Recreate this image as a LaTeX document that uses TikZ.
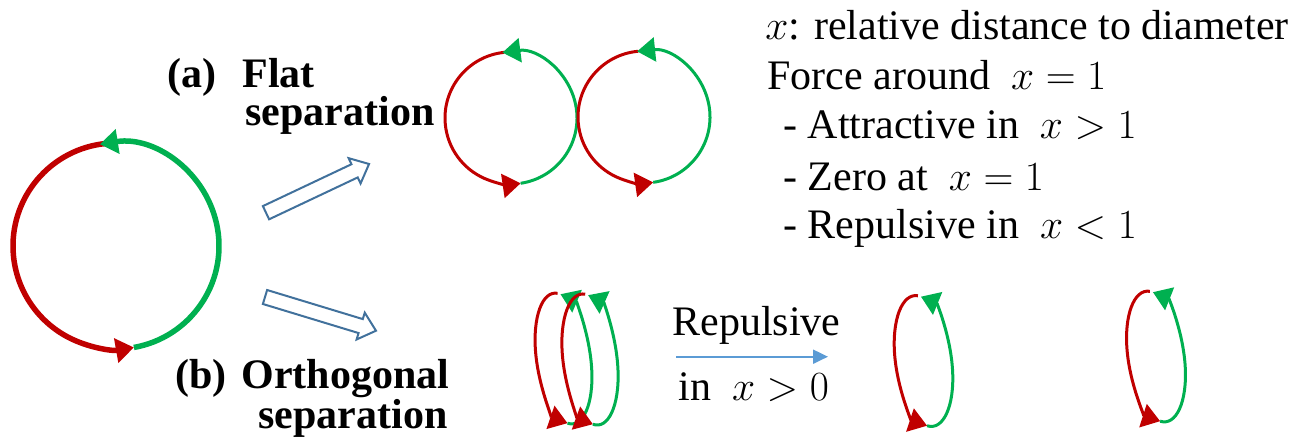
\documentclass[tikz,border=0pt]{standalone}
\usepackage{fontspec}
\setmainfont{Liberation Serif}[BoldFont={Liberation Serif Bold}]
\usetikzlibrary{arrows.meta}
\definecolor{cred}{HTML}{C00000}
\definecolor{cgreen}{HTML}{00B050}
\definecolor{cblock}{HTML}{41719C}
\definecolor{cthin}{HTML}{5B9BD5}
% #1 cx, #2 cy, #3 rx, #4 ry, #5 rotation, #6 line width, #7 red start, #8 red end / green start, #9 green end
\newcommand\mykloop[9]{%
  \begin{scope}[shift={(#1,#2)},rotate=#5]
    \draw[cred,line width=#6,-{Triangle[length=9pt,width=12pt]}]
      (#7:#3 and #4) arc[start angle=#7,end angle=#8,x radius=#3,y radius=#4];
    \draw[cgreen,line width=#6,-{Triangle[length=9pt,width=12pt]}]
      (#8:#3 and #4) arc[start angle=#8,end angle=#9,x radius=#3,y radius=#4];
  \end{scope}}
% block arrow: #1 tail x, #2 tail y, #3 angle, #4 length
\newcommand\myblock[4]{%
  \begin{scope}[shift={(#1,#2)},rotate=#3]
    \draw[blockarr] (0,-7.3) -- (#4-16,-7.3) -- (#4-16,-14) -- (#4,0)
      -- (#4-16,14) -- (#4-16,7.3) -- (0,7.3) -- cycle;
  \end{scope}}
\begin{document}
\begin{tikzpicture}[x=0.5pt,y=0.5pt,
  txt/.style={anchor=base west,inner sep=0pt,font=\fontsize{21}{25}\selectfont},
  btxt/.style={anchor=base west,inner sep=0pt,font=\fontsize{21}{25}\selectfont\bfseries},
  blockarr/.style={draw=cblock,line width=1pt,line join=miter,fill=white},
  thinarr/.style={draw=cthin,line width=1pt,-{Triangle[length=7.5pt,width=7pt]}}]
\useasboundingbox (0,0) rectangle (1300,441);

% big loop
\mykloop{116}{195}{103}{103}{0}{2.75pt}{95}{280}{459}
% flat separation
\mykloop{511}{323}{66}{66}{0}{1.5pt}{96}{278.4}{457.5}
\mykloop{644}{324}{66}{66}{0}{1.5pt}{95}{278}{456}
% orthogonal separation
\mykloop{563.5}{82.5}{27}{66}{8.5}{1.5pt}{82}{258}{436}
\mykloop{590}{81.5}{27}{66}{7.5}{1.5pt}{82}{258}{436}
\mykloop{923.5}{80}{28}{66}{8.3}{1.5pt}{82}{258}{436}
\mykloop{1156}{84.5}{28}{66}{8.8}{1.5pt}{82}{258}{436}

% block arrows
\myblock{266}{228.3}{25.3}{114}
\myblock{265}{144}{-16.9}{116}

% thin arrow
\coordinate (ra) at (676,84.3);
\coordinate (rb) at (828,84.3);
\draw[thinarr] (ra) -- (rb);

% labels
\node[btxt] (la) at (167,354) {(a)};
\node[btxt] (lflat) at (242,354) {Flat};
\node[btxt] (lsepa) at (245,316) {separation};
\node[btxt] (lb) at (175,53) {(b)};
\node[btxt] (lorth) at (241,53) {Orthogonal};
\node[btxt] (lsepb) at (258,13) {separation};
\node[txt] (lrep) at (672,106) {Repulsive};
\node[txt] (lin) at (678,41) {in \ $x>0$};

\node[txt] (t1) at (765,402) {$x$: relative distance to diameter};
\node[txt] (t2) at (767,352) {Force around \ $x=1$};
\node[txt] (t3) at (783,303) {- Attractive in \ $x>1$};
\node[txt] (t4) at (783,251) {- Zero at \ $x=1$};
\node[txt] (t5) at (783,203) {- Repulsive in \ $x<1$};
\end{tikzpicture}
\end{document}
